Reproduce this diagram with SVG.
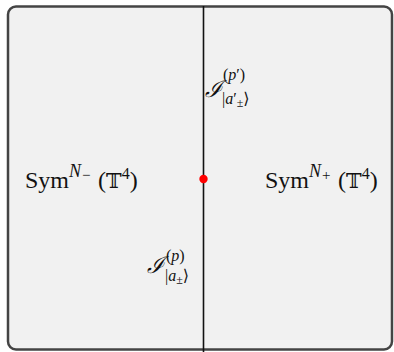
<svg xmlns="http://www.w3.org/2000/svg" width="394" height="352" viewBox="0 0 394 352">
<style>
.t{font-family:"Liberation Serif","DejaVu Serif",serif;fill:#111}
.m{font-size:24px}
.s{font-size:16px}
.i{font-style:italic}
.cal{font-family:"DejaVu Serif",serif;font-size:23px;font-style:italic;fill:#111}
</style>
<rect width="394" height="352" fill="#ffffff"/>
<g id="frame">
<rect x="8" y="6.5" width="384" height="343" rx="8" ry="8" fill="#f1f1f1" stroke="#444" stroke-width="2.5"/>
</g>
<g id="connectors">
<line x1="203.5" y1="6" x2="203.5" y2="352" stroke="#111" stroke-width="1.6"/>
</g>
<g id="defect">
<circle cx="203.5" cy="179" r="4.2" fill="#ff0000"/>
</g>
<g id="left">
<text class="t m" x="25" y="188">Sym</text>
<text class="t i" font-size="18" x="69" y="177">N<tspan font-style="normal" font-size="15" dx="1" dy="3">−</tspan></text>
<text class="t m" x="98" y="188">(<tspan font-family="DejaVu Serif,serif" font-size="21">𝕋</tspan><tspan class="s" dy="-9">4</tspan><tspan dy="9">)</tspan></text>
</g>
<g id="right">
<text class="t m" x="265" y="188">Sym</text>
<text class="t i" font-size="18" x="309" y="177">N<tspan font-style="normal" font-size="15" dx="1" dy="3">+</tspan></text>
<text class="t m" x="338" y="188">(<tspan font-family="DejaVu Serif,serif" font-size="21">𝕋</tspan><tspan class="s" dy="-9">4</tspan><tspan dy="9">)</tspan></text>
</g>
<g id="top">
<text class="cal" x="205" y="97">ℐ</text>
<text class="t s" x="223" y="80">(<tspan font-style="italic">p</tspan>′)</text>
<text class="t s" x="222" y="104">|<tspan font-style="italic">a</tspan>′<tspan font-size="12" dy="3">±</tspan><tspan dy="-3">⟩</tspan></text>
</g>
<g id="bottom">
<text class="cal" x="147" y="273">ℐ</text>
<text class="t s" x="166" y="261">(<tspan font-style="italic">p</tspan>)</text>
<text class="t s" x="165" y="281">|<tspan font-style="italic">a</tspan><tspan font-size="12" dy="3">±</tspan><tspan dy="-3">⟩</tspan></text>
</g>
</svg>
